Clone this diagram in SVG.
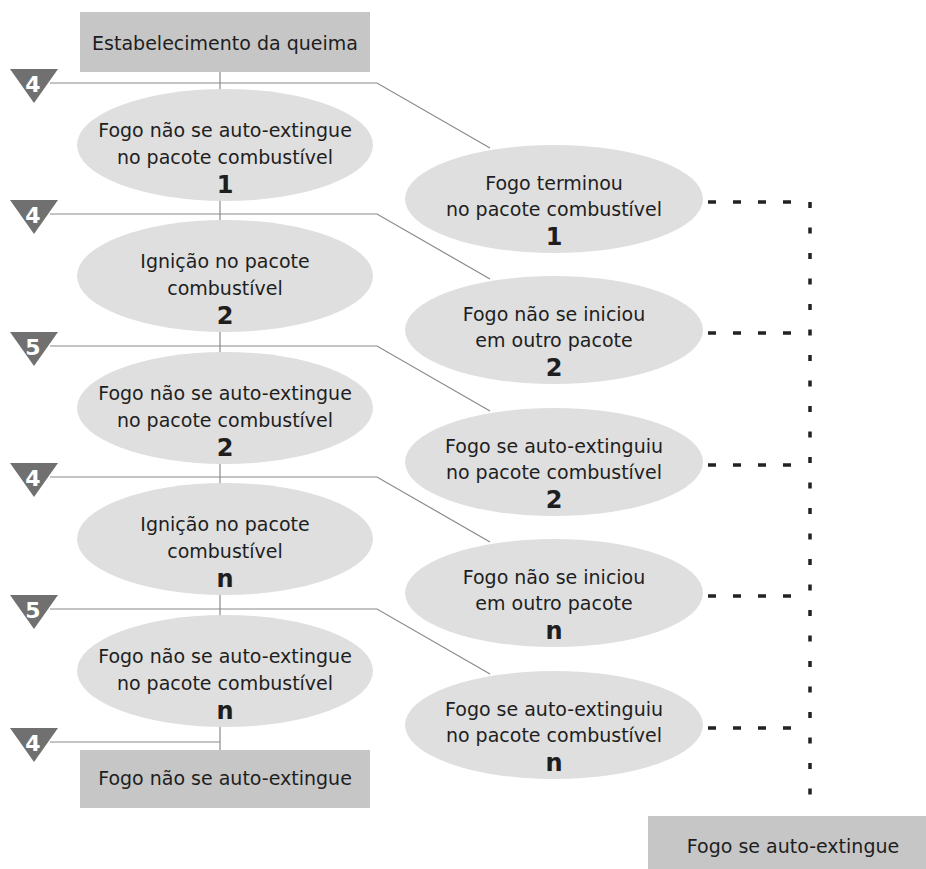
<svg xmlns="http://www.w3.org/2000/svg" width="926" height="869" viewBox="0 0 926 869">
  <style>
    .txt { font-family: "DejaVu Sans", "Open Sans", sans-serif; font-size: 19px; fill: #1e1e1e; text-anchor: middle; }
    .num { font-family: "DejaVu Sans", "Open Sans", sans-serif; font-size: 24px; font-weight: bold; fill: #1e1e1e; text-anchor: middle; }
    .box { fill: #c6c6c6; }
    .oval { fill: #dfdfdf; }
    .tri { fill: #707070; }
    .tnum { font-family: "DejaVu Sans", "Open Sans", sans-serif; font-size: 22px; font-weight: bold; fill: #fff; text-anchor: middle; }
    .link { fill: none; stroke: #8a8a8a; stroke-width: 1.2; }
    .dash { fill: none; stroke: #222; stroke-width: 3.5; }
  </style>
  <rect width="926" height="869" fill="#fff"/>

  <!-- connectors -->
  <g id="connectors">
    <line class="link" x1="220" y1="72" x2="220" y2="750"/>
    <polyline class="link" points="50,83 377,83 490,148"/>
    <polyline class="link" points="50,214 377,214 490,279"/>
    <polyline class="link" points="50,346 377,346 490,411"/>
    <polyline class="link" points="50,477 377,477 490,542"/>
    <polyline class="link" points="50,609 377,609 490,674"/>
    <line class="link" x1="50" y1="742" x2="220" y2="742"/>
    <!-- dashed links to the final outcome -->
    <g class="dash" stroke-dasharray="8 17">
      <line x1="708" y1="202" x2="792" y2="202"/>
      <line x1="708" y1="333" x2="792" y2="333"/>
      <line x1="708" y1="465" x2="792" y2="465"/>
      <line x1="708" y1="596" x2="792" y2="596"/>
      <line x1="708" y1="728" x2="792" y2="728"/>
    </g>
    <line class="dash" x1="810" y1="202" x2="810" y2="800" stroke-dasharray="6 19.5"/>
  </g>

  <!-- probability markers -->
  <g id="markers">
    <g id="m1"><polygon class="tri" points="10,69 58,69 34,103"/><text class="tnum" x="33" y="92">4</text></g>
    <g id="m2"><polygon class="tri" points="10,200 58,200 34,234"/><text class="tnum" x="33" y="223">4</text></g>
    <g id="m3"><polygon class="tri" points="10,332 58,332 34,366"/><text class="tnum" x="33" y="355">5</text></g>
    <g id="m4"><polygon class="tri" points="10,463 58,463 34,497"/><text class="tnum" x="33" y="486">4</text></g>
    <g id="m5"><polygon class="tri" points="10,595 58,595 34,629"/><text class="tnum" x="33" y="618">5</text></g>
    <g id="m6"><polygon class="tri" points="10,728 58,728 34,762"/><text class="tnum" x="33" y="751">4</text></g>
  </g>

  <g id="start">
    <rect class="box" x="80" y="12" width="290" height="60"/>
    <text class="txt" x="225" y="50">Estabelecimento da queima</text>
  </g>

  <!-- left column -->
  <g id="l1">
    <ellipse class="oval" cx="225" cy="145" rx="148" ry="56"/>
    <text class="txt" x="225" y="137">Fogo não se auto-extingue</text>
    <text class="txt" x="225" y="164">no pacote combustível</text>
    <text class="num" x="225" y="193">1</text>
  </g>
  <g id="l2">
    <ellipse class="oval" cx="225" cy="276" rx="148" ry="56"/>
    <text class="txt" x="225" y="268">Ignição no pacote</text>
    <text class="txt" x="225" y="295">combustível</text>
    <text class="num" x="225" y="324">2</text>
  </g>
  <g id="l3">
    <ellipse class="oval" cx="225" cy="408" rx="148" ry="56"/>
    <text class="txt" x="225" y="400">Fogo não se auto-extingue</text>
    <text class="txt" x="225" y="427">no pacote combustível</text>
    <text class="num" x="225" y="456">2</text>
  </g>
  <g id="l4">
    <ellipse class="oval" cx="225" cy="539" rx="148" ry="56"/>
    <text class="txt" x="225" y="531">Ignição no pacote</text>
    <text class="txt" x="225" y="558">combustível</text>
    <text class="num" x="225" y="587">n</text>
  </g>
  <g id="l5">
    <ellipse class="oval" cx="225" cy="671" rx="148" ry="56"/>
    <text class="txt" x="225" y="663">Fogo não se auto-extingue</text>
    <text class="txt" x="225" y="690">no pacote combustível</text>
    <text class="num" x="225" y="719">n</text>
  </g>
  <g id="end-left">
    <rect class="box" x="80" y="750" width="290" height="58"/>
    <text class="txt" x="225" y="785">Fogo não se auto-extingue</text>
  </g>

  <!-- right column -->
  <g id="r1">
    <ellipse class="oval" cx="554" cy="199" rx="149" ry="54"/>
    <text class="txt" x="554" y="190">Fogo terminou</text>
    <text class="txt" x="554" y="216">no pacote combustível</text>
    <text class="num" x="554" y="245">1</text>
  </g>
  <g id="r2">
    <ellipse class="oval" cx="554" cy="330" rx="149" ry="54"/>
    <text class="txt" x="554" y="321">Fogo não se iniciou</text>
    <text class="txt" x="554" y="347">em outro pacote</text>
    <text class="num" x="554" y="376">2</text>
  </g>
  <g id="r3">
    <ellipse class="oval" cx="554" cy="462" rx="149" ry="54"/>
    <text class="txt" x="554" y="453">Fogo se auto-extinguiu</text>
    <text class="txt" x="554" y="479">no pacote combustível</text>
    <text class="num" x="554" y="508">2</text>
  </g>
  <g id="r4">
    <ellipse class="oval" cx="554" cy="593" rx="149" ry="54"/>
    <text class="txt" x="554" y="584">Fogo não se iniciou</text>
    <text class="txt" x="554" y="610">em outro pacote</text>
    <text class="num" x="554" y="639">n</text>
  </g>
  <g id="r5">
    <ellipse class="oval" cx="554" cy="725" rx="149" ry="54"/>
    <text class="txt" x="554" y="716">Fogo se auto-extinguiu</text>
    <text class="txt" x="554" y="742">no pacote combustível</text>
    <text class="num" x="554" y="771">n</text>
  </g>
  <g id="end-right">
    <rect class="box" x="648" y="816" width="278" height="53"/>
    <text class="txt" x="793" y="853">Fogo se auto-extingue</text>
  </g>
</svg>
